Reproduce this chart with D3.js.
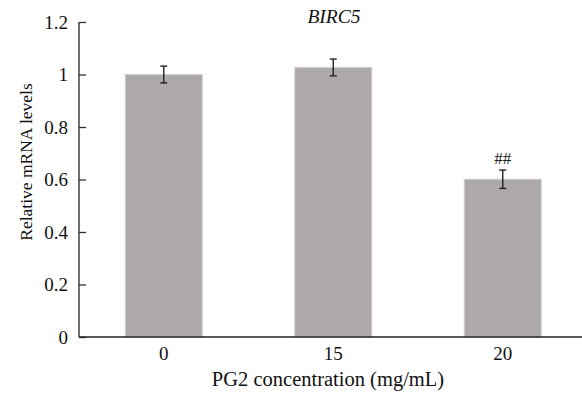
<!DOCTYPE html>
<html><head><meta charset="utf-8">
<script src="https://cdn.jsdelivr.net/npm/d3@7"></script>
<style>body{margin:0;background:#fff}svg{display:block}</style>
</head><body><svg id="c" width="582" height="400"></svg>
<script>
const categories = ["0", "15", "20"];
const values = [1.0, 1.027, 0.601];
const errors = [0.032, 0.032, 0.035];
const marks = ["", "", "##"];
const yTicks = [0, 0.2, 0.4, 0.6, 0.8, 1, 1.2];

const FONT = "'Liberation Serif', 'Times New Roman', serif";
const svg = d3.select("#c").style("font-family", FONT);
const x = d3.scaleBand().domain(categories).range([79, 587.5]).paddingInner(0.546).paddingOuter(0.273);
const y = d3.scaleLinear().domain([0, 1.2]).range([337, 22]);

// bars
svg.selectAll("rect.bar").data(values).join("rect")
  .attr("x", (d,i)=>x(categories[i])).attr("width", x.bandwidth())
  .attr("y", d=>y(d)).attr("height", d=>y(0)-y(d))
  .attr("fill", "#aea9a9").attr("stroke", "#d2cece").attr("stroke-width", 1);

// error bars
const eg = svg.append("g").attr("stroke", "#222").attr("stroke-width", 1.4);
values.forEach((v,i)=>{
  const cx = x(categories[i]) + x.bandwidth()/2;
  eg.append("line").attr("x1", cx).attr("x2", cx).attr("y1", y(v+errors[i])).attr("y2", y(v-errors[i]));
  eg.append("line").attr("x1", cx-3.5).attr("x2", cx+3.5).attr("y1", y(v+errors[i])).attr("y2", y(v+errors[i]));
  eg.append("line").attr("x1", cx-3.5).attr("x2", cx+3.5).attr("y1", y(v-errors[i])).attr("y2", y(v-errors[i]));
  if (marks[i]) svg.append("text").attr("x", cx).attr("y", y(v+errors[i]) - 6)
    .attr("text-anchor", "middle").attr("fill", "#222")
    .style("font-family", FONT).style("font-size", "17px").text(marks[i]);
});

// y axis
const ya = svg.append("g").attr("transform", "translate(79,0)")
  .call(d3.axisRight(y).tickValues(yTicks).tickFormat(d=>String(d)).tickSize(7));
ya.attr("font-family", null).attr("font-size", null);
ya.select(".domain").remove();
ya.selectAll(".tick line").attr("stroke", "#333").attr("stroke-width", 1.3);
ya.selectAll(".tick text").attr("x", -11).attr("text-anchor", "end")
  .style("font-family", FONT).style("font-size", "19px").attr("fill", "#111");
svg.append("line").attr("x1", 79).attr("x2", 79).attr("y1", y(1.2)).attr("y2", y(0))
  .attr("stroke", "#333").attr("stroke-width", 1.4);

// x axis
const xa = svg.append("g").attr("transform", `translate(0,${y(0)})`)
  .call(d3.axisBottom(x).tickSize(0).tickPadding(10));
xa.attr("font-family", null).attr("font-size", null);
xa.select(".domain").remove();
xa.selectAll(".tick text").style("font-family", FONT).style("font-size", "19px").attr("fill", "#111");
svg.append("line").attr("x1", 79).attr("x2", 582).attr("y1", y(0)).attr("y2", y(0))
  .attr("stroke", "#222").attr("stroke-width", 1.4);

// titles
svg.append("text").attr("x", 334).attr("y", 23).attr("text-anchor", "middle")
  .style("font-family", FONT).style("font-size", "19.5px").attr("font-style", "italic").attr("fill", "#111").text("BIRC5");
svg.append("text").attr("transform", "translate(32,162) rotate(-90)").attr("text-anchor", "middle")
  .style("font-family", FONT).style("font-size", "17.5px").attr("fill", "#111").text("Relative mRNA levels");
svg.append("text").attr("x", 328).attr("y", 386).attr("text-anchor", "middle")
  .style("font-family", FONT).style("font-size", "20.5px").attr("fill", "#111").text("PG2 concentration (mg/mL)");
</script></body></html>
